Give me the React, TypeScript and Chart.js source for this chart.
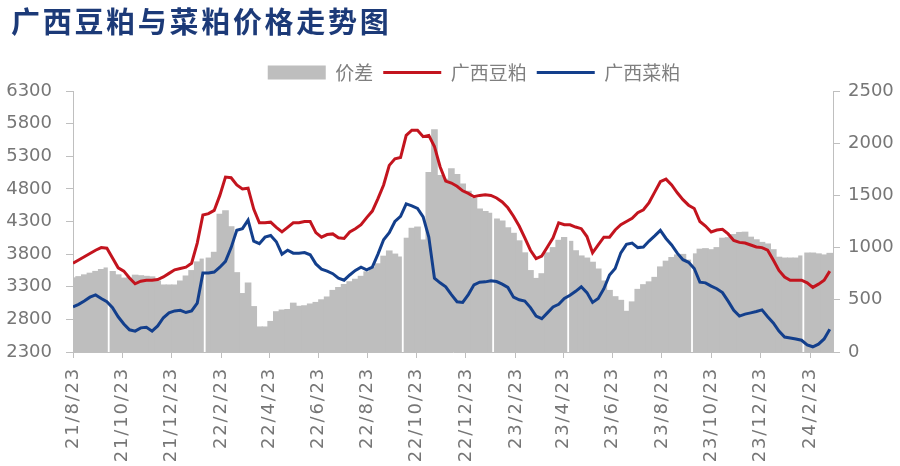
import React, { useEffect, useRef } from 'react';
import { Chart, registerables } from 'chart.js';

Chart.register(...registerables);

// ---- data ----
const START_DATE = '2021-08-23';
const X_END_DATE = '2024-03-22';

// weekly observations (one per week from START_DATE)
const soyMeal = [
  3660, 3710, 3760, 3810, 3860, 3900, 3890, 3740, 3590, 3540,
  3435, 3345, 3385, 3400, 3400, 3410, 3450, 3505, 3560, 3580,
  3600, 3660, 3970, 4400, 4420, 4470, 4700, 4980, 4970, 4860,
  4800, 4810, 4490, 4280, 4280, 4290, 4210, 4140, 4210, 4280,
  4280, 4300, 4300, 4130, 4060, 4100, 4110, 4050, 4040, 4140,
  4190, 4250, 4360, 4460, 4650, 4860, 5160, 5260, 5280, 5620,
  5700, 5700, 5600, 5620, 5450, 5140, 4920, 4890, 4840, 4770,
  4730, 4680, 4700, 4710, 4700, 4660, 4600, 4510, 4380, 4230,
  4050, 3860, 3730, 3770, 3910, 4050, 4280, 4250, 4250, 4215,
  4190, 4070, 3820, 3940, 4060, 4060, 4170, 4250, 4300, 4350,
  4435, 4480, 4590, 4750, 4910, 4950, 4860, 4740, 4635, 4550,
  4500, 4300, 4230, 4140, 4170, 4180, 4110, 4010, 3980, 3970,
  3940, 3910, 3900, 3860, 3710, 3550, 3450, 3400, 3400, 3400,
  3360, 3290, 3340, 3400, 3540,
];

const rapeMeal = [
  2990, 3030, 3080, 3140, 3175, 3120, 3070, 2980, 2840, 2730,
  2640, 2620, 2670, 2680, 2620, 2700, 2825, 2900, 2930, 2940,
  2905, 2930, 3050, 3510, 3510, 3525, 3600, 3690, 3900, 4165,
  4190, 4320, 4000, 3960, 4060, 4085, 3990, 3800, 3860, 3815,
  3815, 3825, 3790, 3650, 3570, 3540, 3500, 3430, 3400, 3480,
  3550, 3600, 3560, 3600, 3800, 4020, 4130, 4300, 4380, 4570,
  4540, 4500, 4370, 4060, 3430, 3360, 3300, 3180, 3070, 3060,
  3180, 3330, 3370, 3375, 3390, 3380, 3340, 3290, 3140, 3100,
  3080, 2980, 2850, 2810, 2900, 2990, 3030, 3120, 3170, 3230,
  3300, 3210, 3060, 3120, 3270, 3480, 3580, 3820, 3950, 3970,
  3900, 3910, 4000, 4080, 4165, 4040, 3940, 3815, 3715, 3675,
  3580, 3370, 3360, 3310, 3270, 3210, 3080, 2940, 2850, 2880,
  2900, 2920, 2945, 2840, 2745, 2620, 2530, 2515, 2500, 2480,
  2410, 2380, 2420, 2500, 2650,
];

const spread = [
  710, 722, 739, 755, 772, 790, 805, 771, 739, 708,
  710, 736, 731, 725, 720, 680, 642, 642, 642, 680,
  728, 780, 863, 890, 900, 955, 1320, 1354, 1200, 760,
  560, 661, 435, 240, 240, 293, 386, 402, 407, 468,
  438, 443, 460, 475, 500, 527, 590, 618, 647, 673,
  697, 725, 768, 808, 845, 918, 968, 938, 910, 1090,
  1185, 1197, 1073, 1720, 2130, 1690, 1655, 1755, 1700, 1610,
  1540, 1470, 1370, 1346, 1330, 1275, 1255, 1190, 1137, 1065,
  950, 780, 705, 750, 950, 1000, 1070, 1097, 1060, 970,
  920, 900, 860, 795, 680, 590, 530, 495, 390, 480,
  600, 645, 672, 715, 815, 870, 905, 930, 935, 880,
  940, 985, 990, 980, 1000, 1090, 1095, 1125, 1145, 1148,
  1100, 1075, 1050, 1035, 980, 908, 900, 900, 900, 920,
  948, 948, 940, 930, 945,
];

// holiday days with no spread value (white gaps in the columns)
const holidayGaps = ['2021-10-05', '2022-02-01', '2022-10-05', '2023-01-25', '2023-04-30', '2023-09-30', '2024-02-13'];

const tickDates = [
  '2021-08-23', '2021-10-23', '2021-12-23', '2022-02-23', '2022-04-23', '2022-06-23',
  '2022-08-23', '2022-10-23', '2022-12-23', '2023-02-23', '2023-04-23', '2023-06-23',
  '2023-08-23', '2023-10-23', '2023-12-23', '2024-02-23',
];
const tickLabels = [
  '21/8/23', '21/10/23', '21/12/23', '22/2/23', '22/4/23', '22/6/23',
  '22/8/23', '22/10/23', '22/12/23', '23/2/23', '23/4/23', '23/6/23',
  '23/8/23', '23/10/23', '23/12/23', '24/2/23',
];

const seriesNames = ['价差', '广西豆粕', '广西菜粕'];
const TITLE = '广西豆粕与菜粕价格走势图';

// ---- helpers ----
const DAY_MS = 86400000;
const dayOf = (s: string) =>
  Math.round((Date.parse(s + 'T00:00:00Z') - Date.parse(START_DATE + 'T00:00:00Z')) / DAY_MS);
const weekDays = soyMeal.map((_, i) => i * 7);
const tickDays = tickDates.map(dayOf);

const soyPoints = weekDays.map((d, i) => ({ x: d, y: soyMeal[i] }));
const rapePoints = weekDays.map((d, i) => ({ x: d, y: rapeMeal[i] }));
const spreadPoints = [
  ...weekDays.map((d, i) => ({ x: d, y: spread[i] as number | null })),
  ...holidayGaps.map((s) => ({ x: dayOf(s), y: null as number | null })),
].sort((a, b) => a.x - b.x);

const AXIS_GREY = '#bfbfbf';
const TICK_COLOR = '#767676';
const tickFont = { family: 'DejaVu Sans', size: 18 };
const plainNumber = (v: any) => String(v);

function withLetterSpacing(obj: any, method: string, spacing: string) {
  if (!obj || obj['__spaced_' + method]) return;
  const orig = obj[method];
  obj[method] = function (...args: any[]) {
    const ctx = this.ctx;
    ctx.save();
    ctx.letterSpacing = spacing;
    const r = orig.apply(this, args);
    ctx.restore();
    return r;
  };
  obj['__spaced_' + method] = true;
}

const placeBoxes = {
  id: 'placeBoxes',
  afterLayout(chart: any) {
    const t = chart.titleBlock;
    if (t) {
      t.top -= 12.6; t.bottom -= 12.6; t.left += 11; t.right += 11;
      withLetterSpacing(t, 'draw', '2.7px');
    }
    const l = chart.legend;
    if (l) {
      l.left += 24; l.right += 24; l.top += 1; l.bottom += 1;
    }
    withLetterSpacing(chart.scales.x, 'drawLabels', '1.8px');
  },
};

export default function App() {
  const canvasRef = useRef<HTMLCanvasElement>(null);

  useEffect(() => {
    if (!canvasRef.current) return;
    const chart = new Chart(canvasRef.current, {
      type: 'line',
      data: {
        datasets: [
          {
            type: 'bar',
            label: seriesNames[0],
            data: spreadPoints as any,
            yAxisID: 'y1',
            xAxisID: 'x',
            backgroundColor: '#bebebe',
            borderWidth: 0,
            inflateAmount: 0.5,
            barPercentage: 1,
            categoryPercentage: 1,
            barThickness: 'flex',
            order: 2,
            pointStyle: 'rect',
            clip: 0,
          } as any,
          {
            type: 'line',
            label: seriesNames[1],
            data: soyPoints,
            yAxisID: 'y',
            xAxisID: 'x',
            borderColor: '#c3141e',
            backgroundColor: '#c3141e',
            borderWidth: 3,
            pointRadius: 0,
            tension: 0,
            order: 0,
            pointStyle: 'line',
          },
          {
            type: 'line',
            label: seriesNames[2],
            data: rapePoints,
            yAxisID: 'y',
            xAxisID: 'x',
            borderColor: '#133f8c',
            backgroundColor: '#133f8c',
            borderWidth: 3,
            pointRadius: 0,
            tension: 0,
            order: 1,
            pointStyle: 'line',
          },
        ],
      },
      options: {
        responsive: true,
        maintainAspectRatio: false,
        animation: false,
        events: [],
        layout: { padding: { top: 17.2, left: 0, right: 0, bottom: 0 } },
        plugins: {
          title: {
            display: true,
            text: TITLE,
            align: 'start',
            color: '#1c3a78',
            font: { family: 'Noto Sans CJK SC', size: 29, weight: 'bold' },
            padding: { top: 0, bottom: 0 },
          },
          legend: {
            display: true,
            position: 'top',
            align: 'center',
            labels: {
              usePointStyle: true,
              pointStyleWidth: 58,
              boxWidth: 58,
              boxHeight: 14,
              padding: 10,
              color: '#7f7f7f',
              font: { family: 'Noto Sans CJK SC', size: 19 },
              sort: (a: any, b: any) => a.datasetIndex - b.datasetIndex,
            },
          },
          tooltip: { enabled: false },
        },
        scales: {
          x: {
            type: 'linear',
            min: 0,
            max: dayOf(X_END_DATE),
            offset: false,
            afterBuildTicks: (scale: any) => {
              scale.ticks = tickDays.map((v) => ({ value: v }));
            },
            afterFit: (scale: any) => {
              scale.height = 114;
            },
            grid: { display: true, drawOnChartArea: false, drawTicks: true, tickLength: 6, color: AXIS_GREY, offset: false },
            border: { display: true, color: AXIS_GREY },
            ticks: {
              autoSkip: false,
              maxRotation: 90,
              minRotation: 90,
              padding: 9,
              color: TICK_COLOR,
              font: tickFont,
              callback: (_v: any, i: number) => tickLabels[i],
            },
          },
          y: {
            type: 'linear',
            position: 'left',
            min: 2300,
            max: 6300,
            afterFit: (scale: any) => {
              scale.width = 73;
            },
            grid: { drawOnChartArea: false, drawTicks: true, tickLength: 7, color: AXIS_GREY },
            border: { display: true, color: AXIS_GREY },
            ticks: { stepSize: 500, padding: 14, color: TICK_COLOR, font: tickFont, callback: plainNumber },
          },
          y1: {
            type: 'linear',
            position: 'right',
            min: 0,
            max: 2500,
            afterFit: (scale: any) => {
              scale.width = 67;
            },
            grid: { drawOnChartArea: false, drawTicks: true, tickLength: 7, color: AXIS_GREY },
            border: { display: true, color: AXIS_GREY },
            ticks: { stepSize: 500, padding: 8, color: TICK_COLOR, font: tickFont, callback: plainNumber },
          },
        },
      } as any,
      plugins: [placeBoxes],
    });
    return () => chart.destroy();
  }, []);

  return (
    <div style={{ position: 'absolute', left: 0, top: 0, width: 900, height: 466, background: '#ffffff' }}>
      <canvas ref={canvasRef} />
    </div>
  );
}
